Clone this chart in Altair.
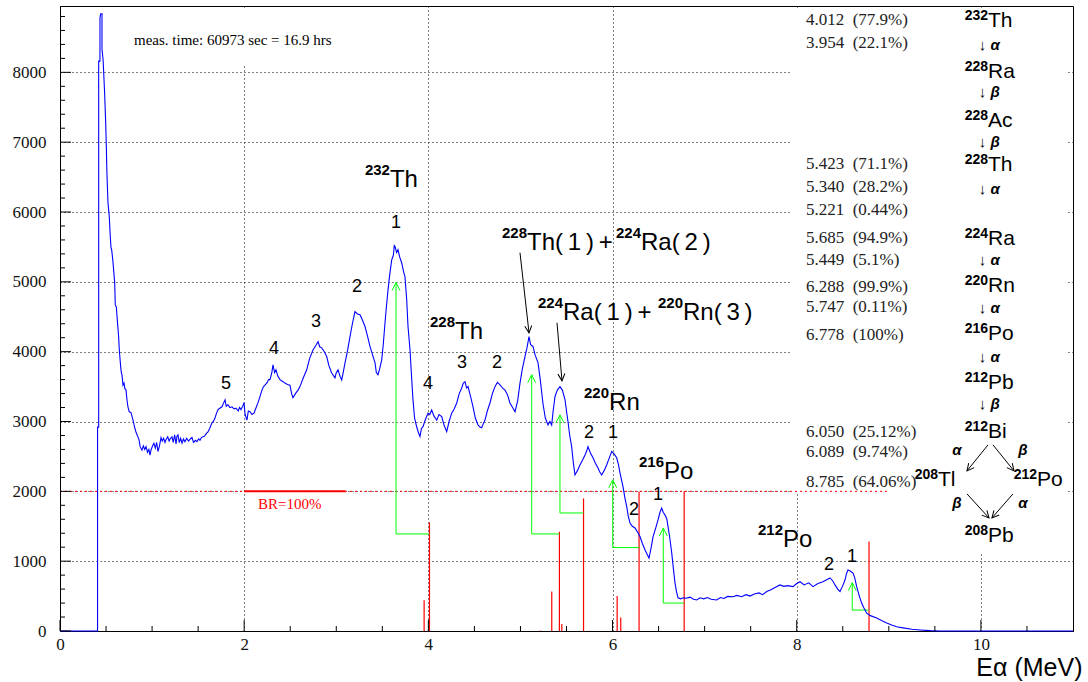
import math
import altair as alt
import pandas as pd

# ---------------- data ----------------
energy = [0.000, 0.408, 0.408, 0.420, 0.420, 0.434, 0.434, 0.442, 0.456, 0.456, 0.468, 0.485, 0.496, 0.503,
          0.510, 0.521, 0.535, 0.546, 0.554, 0.561, 0.575, 0.594, 0.600, 0.612, 0.622, 0.637, 0.644, 0.659,
          0.666, 0.673, 0.684, 0.695, 0.705, 0.717, 0.728, 0.738, 0.752, 0.770, 0.793, 0.810, 0.825, 0.840,
          0.858, 0.870, 0.890, 0.905, 0.920, 0.934, 0.950, 0.965, 0.977, 0.990, 1.005, 1.020, 1.035, 1.050,
          1.064, 1.080, 1.097, 1.110, 1.125, 1.140, 1.151, 1.170, 1.185, 1.200, 1.216, 1.230, 1.245, 1.260,
          1.270, 1.281, 1.295, 1.310, 1.325, 1.340, 1.357, 1.375, 1.395, 1.415, 1.433, 1.450, 1.470, 1.487,
          1.505, 1.520, 1.535, 1.553, 1.570, 1.590, 1.607, 1.625, 1.640, 1.650, 1.665, 1.683, 1.700, 1.716,
          1.735, 1.759, 1.775, 1.792, 1.805, 1.824, 1.845, 1.868, 1.890, 1.911, 1.935, 1.950, 1.965, 1.985,
          1.998, 2.010, 2.030, 2.045, 2.063, 2.085, 2.106, 2.130, 2.150, 2.170, 2.193, 2.210, 2.226, 2.250,
          2.265, 2.280, 2.300, 2.313, 2.330, 2.345, 2.365, 2.389, 2.410, 2.443, 2.470, 2.497, 2.515, 2.530,
          2.562, 2.585, 2.606, 2.640, 2.679, 2.710, 2.747, 2.775, 2.802, 2.820, 2.842, 2.870, 2.896, 2.920,
          2.950, 2.986, 3.000, 3.019, 3.040, 3.059, 3.075, 3.095, 3.120, 3.149, 3.175, 3.203, 3.230, 3.258,
          3.285, 3.312, 3.340, 3.366, 3.395, 3.421, 3.435, 3.453, 3.470, 3.493, 3.510, 3.529, 3.545, 3.562,
          3.580, 3.602, 3.620, 3.630, 3.638, 3.655, 3.670, 3.690, 3.711, 3.730, 3.746, 3.765, 3.779, 3.801,
          3.815, 3.833, 3.850, 3.873, 3.890, 3.909, 3.925, 3.942, 3.960, 3.975, 3.996, 4.015, 4.036, 4.060,
          4.091, 4.115, 4.145, 4.170, 4.199, 4.225, 4.253, 4.280, 4.308, 4.335, 4.362, 4.380, 4.398, 4.415,
          4.431, 4.460, 4.485, 4.510, 4.539, 4.560, 4.579, 4.600, 4.615, 4.640, 4.669, 4.695, 4.724, 4.750,
          4.778, 4.805, 4.832, 4.860, 4.886, 4.915, 4.941, 4.970, 4.995, 5.020, 5.049, 5.070, 5.093, 5.110,
          5.136, 5.160, 5.191, 5.215, 5.245, 5.270, 5.299, 5.320, 5.339, 5.355, 5.375, 5.400, 5.429, 5.455,
          5.484, 5.500, 5.516, 5.535, 5.556, 5.575, 5.592, 5.620, 5.647, 5.675, 5.701, 5.720, 5.733, 5.760,
          5.788, 5.815, 5.842, 5.860, 5.882, 5.910, 5.937, 5.965, 5.991, 6.015, 6.045, 6.065, 6.081, 6.114,
          6.135, 6.154, 6.170, 6.190, 6.215, 6.244, 6.270, 6.299, 6.325, 6.353, 6.375, 6.396, 6.420, 6.440,
          6.470, 6.494, 6.515, 6.534, 6.550, 6.570, 6.590, 6.602, 6.620, 6.643, 6.660, 6.678, 6.695, 6.711,
          6.740, 6.765, 6.800, 6.841, 6.880, 6.914, 6.950, 6.990, 7.030, 7.070, 7.131, 7.170, 7.210, 7.250,
          7.308, 7.350, 7.400, 7.450, 7.493, 7.540, 7.590, 7.630, 7.674, 7.720, 7.760, 7.818, 7.860, 7.900,
          7.960, 8.000, 8.036, 8.080, 8.130, 8.177, 8.230, 8.285, 8.320, 8.361, 8.390, 8.416, 8.445, 8.470,
          8.500, 8.524, 8.540, 8.557, 8.580, 8.611, 8.630, 8.651, 8.680, 8.705, 8.730, 8.760, 8.800, 8.868,
          8.920, 8.977, 9.030, 9.086, 9.154, 9.250, 9.339, 9.450, 9.556, 11.000]
counts = [0, 0, 2920, 2920, 8160, 8160, 8780, 8840, 8840, 8326, 8183, 7690, 7280, 6940,
          6535, 6133, 5937, 5646, 5488, 5460, 5290, 4985, 4670, 4640, 4455, 4210, 4025, 3780,
          3700, 3670, 3520, 3550, 3470, 3450, 3300, 3210, 3140, 3130, 3020, 2920, 2850, 2800,
          2740, 2640, 2590, 2650, 2600, 2640, 2560, 2600, 2520, 2600, 2650, 2690, 2620, 2700,
          2570, 2650, 2770, 2720, 2760, 2700, 2740, 2780, 2720, 2760, 2780, 2700, 2810, 2680,
          2790, 2810, 2700, 2760, 2690, 2750, 2710, 2760, 2720, 2750, 2770, 2700, 2730, 2710,
          2750, 2730, 2770, 2780, 2790, 2830, 2850, 2900, 2950, 2980, 3000, 3050, 3120, 3170,
          3190, 3210, 3260, 3310, 3220, 3240, 3200, 3210, 3180, 3190, 3150, 3200, 3170, 3220,
          3270, 3100, 3020, 3150, 3140, 3100, 3120, 3200, 3270, 3350, 3450, 3500, 3520, 3560,
          3600, 3600, 3700, 3810, 3700, 3740, 3650, 3600, 3580, 3550, 3530, 3520, 3400, 3340,
          3410, 3450, 3500, 3620, 3740, 3900, 4025, 4080, 4145, 4070, 4055, 4000, 3930, 3800,
          3695, 3625, 3700, 3740, 3650, 3595, 3700, 3840, 4000, 4215, 4400, 4575, 4540, 4530,
          4450, 4360, 4220, 4075, 3950, 3840, 3700, 3670, 3750, 3880, 4100, 4410, 4650, 4885,
          5100, 5315, 5380, 5520, 5505, 5420, 5460, 5350, 5270, 5150, 5075, 4740, 4360, 4025,
          3700, 3310, 3050, 2925, 2850, 2785, 2900, 2925, 3000, 3050, 3120, 3100, 3165, 3080,
          3020, 3100, 3070, 2950, 2855, 3000, 3120, 3180, 3265, 3400, 3480, 3550, 3570, 3480,
          3500, 3350, 3210, 3050, 2950, 2920, 2910, 2980, 3020, 3150, 3265, 3400, 3500, 3560,
          3525, 3480, 3450, 3380, 3265, 3200, 3140, 3300, 3550, 3750, 3930, 4050, 4215, 4100,
          4075, 3950, 3840, 3600, 3250, 3050, 2950, 3000, 2950, 3150, 3355, 3450, 3500, 3450,
          3310, 3150, 3000, 2800, 2640, 2400, 2235, 2300, 2380, 2450, 2520, 2580, 2640, 2550,
          2480, 2400, 2335, 2280, 2235, 2300, 2380, 2480, 2570, 2540, 2480, 2380, 2265, 2065,
          1900, 1780, 1650, 1545, 1500, 1475, 1420, 1350, 1250, 1160, 1100, 1045, 1200, 1350,
          1480, 1590, 1700, 1760, 1700, 1660, 1600, 1495, 1350, 1115, 900, 690, 560, 475,
          460, 475, 470, 485, 455, 445, 475, 460, 480, 455, 445, 480, 465, 495,
          490, 510, 490, 520, 500, 530, 545, 520, 565, 590, 620, 660, 640, 650,
          635, 680, 705, 660, 690, 635, 680, 705, 730, 760, 720, 660, 600, 565,
          650, 730, 820, 875, 860, 830, 760, 635, 500, 400, 330, 255, 220, 185,
          150, 115, 85, 60, 45, 25, 15, 5, 0, 0]

# alpha lines of the chain: energy (MeV) and branching ratio (%)
alpha_energy = [4.012, 3.954, 5.423, 5.340, 5.221, 5.685, 5.449, 6.288, 5.747, 6.778, 6.050, 6.089, 8.785]
alpha_br = ["77.9", "22.1", "71.1", "28.2", "0.44", "94.9", "5.1", "99.9", "0.11", "100", "25.12", "9.74", "64.06"]
br_text_y = [8756, 8426, 6692, 6363, 6033, 5632, 5316, 4930, 4643, 4242, 2852, 2565, 2135]
BR_FULL = 2000          # counts standing for BR = 100 %
BR_LINE_END = 8.98
BR_BAR = [2.0, 3.1]

# energy loss of each line: true energy -> observed peak
shift_true = [4.012, 5.423, 5.685, 6.288, 6.778, 8.785]
shift_obs = [3.649, 5.122, 5.429, 6.002, 6.551, 8.603]
shift_low = [1390, 1390, 1690, 1195, 400, 300]
shift_top = [4990, 3670, 3095, 2165, 1475, 692]

# peak numbers
peak_num = ["1", "2", "3", "4", "5", "4", "3", "2", "2", "1", "2", "1", "2", "1"]
peak_x = [3.649, 3.225, 2.780, 2.324, 1.803, 3.996, 4.365, 4.745, 5.744, 6.005, 6.233, 6.494, 8.351, 8.600]
peak_y = [5775, 4858, 4356, 3969, 3468, 3468, 3769, 3769, 2766, 2766, 1662, 1877, 874, 989]

# nuclide labels in the spectrum
nuc_mass = ["232", "228", "228", "224", "224", "220", "220", "216", "212"]
nuc_name = ["Th", "Th", "Th(\u20091\u2009)\u2009+", "Ra(\u20092\u2009)", "Ra(\u20091\u2009)\u2009+",
            "Rn(\u20093\u2009)", "Rn", "Po", "Po"]
nuc_x = [3.583, 4.289, 5.071, 6.309, 5.462, 6.765, 5.962, 6.559, 7.851]
nuc_y = [6363, 4184, 5460, 5460, 4457, 4457, 3167, 2178, 1204]

# pointer arrows in the spectrum
arrow_x = [4.995, 5.397]
arrow_y = [5417, 4414]
arrow_x2 = [5.093, 5.451]
arrow_y2 = [4270, 3583]

# decay chain
chain_mass = ["232", "228", "228", "228", "224", "220", "216", "212", "212", "208", "212", "208"]
chain_name = ["Th", "Ra", "Ac", "Th", "Ra", "Rn", "Po", "Pb", "Bi", "Tl", "Po", "Pb"]
chain_x = [10.077] * 9 + [9.534, 10.609, 10.077]
chain_y = [8655, 7925, 7222, 6592, 5531, 4858, 4170, 3468, 2766, 2078, 2078, 1275]
step_text = ["↓ α", "↓ β", "↓ β", "↓ α", "↓ α", "↓ α", "↓ α", "↓ β"]
step_y = [8397, 7724, 7007, 6334, 5316, 4629, 3926, 3253]
step_x = 10.09
branch_text = ["α", "β", "β", "α"]
branch_x = [9.74, 10.457, 9.74, 10.457]
branch_y = [2594, 2594, 1834, 1834]
branch_ax = [10.077, 10.131, 9.849, 10.348]
branch_ay = [2665, 2665, 1963, 1963]
branch_ax2 = [9.849, 10.359, 10.088, 10.120]
branch_ay2 = [2293, 2293, 1619, 1619]

# white boxes behind the texts
box_x = [0.72, 7.93, 9.30]
box_x2 = [3.52, 10.92, 10.92]
box_y = [8100, 1990, 1130]
box_y2 = [8915, 8915, 8915]

x_major = [0, 2, 4, 6, 8, 10]
x_minor = [0.5, 1.0, 1.5, 2.5, 3.0, 3.5, 4.5, 5.0, 5.5, 6.5, 7.0, 7.5, 8.5, 9.0, 9.5, 10.5]
y_major = [0, 1000, 2000, 3000, 4000, 5000, 6000, 7000, 8000]
y_minor = [v for v in range(200, 9000, 200) if v % 1000]

# ---------------- chart ----------------
W, H = 1013, 625
XMAX, YMAX = 11, 8950
SERIF = "Liberation Serif"
SANS = "Liberation Sans"
xs = alt.Scale(domain=[0, XMAX], nice=False, zero=False)
ys = alt.Scale(domain=[0, YMAX], nice=False, zero=False)

x_axis = alt.Axis(values=x_major, format="d", grid=True, gridDash=[1, 3], gridColor="black",
                  gridOpacity=1, gridWidth=1, ticks=False, domainColor="black", domainWidth=1,
                  labelFont=SERIF, labelFontSize=17, labelColor="#111", labelPadding=5,
                  labelFlush=False, title="Eα (MeV)", titleFont=SANS, titleFontSize=25,
                  titleFontWeight="normal", titleColor="black", titleAnchor="end",
                  titleAlign="right", titleX=1022, titleY=44, titleBaseline="alphabetic")
y_axis = alt.Axis(values=y_major, format="d", grid=True, gridDash=[1, 3], gridColor="black",
                  gridOpacity=1, gridWidth=1, ticks=False, domainColor="black", domainWidth=1,
                  labelFont=SERIF, labelFontSize=17, labelColor="#111", labelPadding=14,
                  labelFlush=False, title="")


def X(f="x"):
    return alt.X(f"{f}:Q", scale=xs, axis=x_axis)


def Y(f="y"):
    return alt.Y(f"{f}:Q", scale=ys, axis=y_axis)


def angle(x1, y1, x2, y2):
    dx = (x2 - x1) * W / XMAX
    dy = -(y2 - y1) * H / YMAX
    return math.degrees(math.atan2(dx, -dy)) % 360


HEAD = "M -1 2 L 0 0 L 1 2"

boxes = alt.Chart(pd.DataFrame({"x": box_x, "x2": box_x2, "y": box_y, "y2": box_y2})).mark_rect(
    fill="white").encode(x=X(), x2="x2:Q", y=Y(), y2="y2:Q")

red_dot = alt.Chart(pd.DataFrame({"x": [0], "x2": [BR_LINE_END], "y": [BR_FULL]})).mark_rule(
    color="#ff0000", strokeDash=[2, 3], strokeWidth=1).encode(x=X(), x2="x2:Q", y=Y())
red_bar = alt.Chart(pd.DataFrame({"x": [BR_BAR[0]], "x2": [BR_BAR[1]], "y": [BR_FULL]})).mark_rule(
    color="#ff0000", strokeWidth=2).encode(x=X(), x2="x2:Q", y=Y())

br_df = pd.DataFrame({"x": alpha_energy, "y": [0] * len(alpha_energy),
                      "y2": [float(b) / 100 * BR_FULL for b in alpha_br]})
red_lines = alt.Chart(br_df).mark_rule(color="#ff0000", strokeWidth=1.2).encode(x=X(), y=Y(), y2="y2:Q")

g_h = alt.Chart(pd.DataFrame({"x": shift_obs, "x2": shift_true, "y": shift_low})).mark_rule(
    color="#00ff00", strokeWidth=1).encode(x=X(), x2="x2:Q", y=Y())
g_v = alt.Chart(pd.DataFrame({"x": shift_obs, "y": shift_low, "y2": shift_top})).mark_rule(
    color="#00ff00", strokeWidth=1).encode(x=X(), y=Y(), y2="y2:Q")
g_head = alt.Chart(pd.DataFrame({"x": shift_obs, "y": shift_top})).mark_point(
    shape=HEAD, filled=False, color="#00ff00", strokeWidth=1, size=64, opacity=1).encode(x=X(), y=Y())

spec_df = pd.DataFrame({"x": energy, "y": counts, "i": list(range(len(energy)))})
spectrum = alt.Chart(spec_df).mark_line(color="#0000ff", strokeWidth=1.1).encode(
    x=X(), y=Y(), order=alt.Order("i:Q"))

arr_all_x = arrow_x + branch_ax
arr_all_y = arrow_y + branch_ay
arr_all_x2 = arrow_x2 + branch_ax2
arr_all_y2 = arrow_y2 + branch_ay2
arr_df = pd.DataFrame({"x": arr_all_x, "y": arr_all_y, "x2": arr_all_x2, "y2": arr_all_y2,
                       "ang": [angle(a, b, c, d) for a, b, c, d in
                               zip(arr_all_x, arr_all_y, arr_all_x2, arr_all_y2)]})
arr_lines = alt.Chart(arr_df).mark_rule(color="black", strokeWidth=1).encode(
    x=X(), y=Y(), x2="x2:Q", y2="y2:Q")
head_df = pd.DataFrame({"x": arr_all_x2, "y": arr_all_y2, "ang": arr_df["ang"]})
arr_heads = alt.Chart(head_df).mark_point(shape=HEAD, filled=False, color="black", strokeWidth=1,
                                          size=49, opacity=1).encode(
    x=X(), y=Y(), angle=alt.Angle("ang:Q", scale=None))


def texts(xv, yv, tv, **kw):
    df = pd.DataFrame({"x": xv, "y": yv, "t": tv})
    return alt.Chart(df).mark_text(**kw).encode(x=X(), y=Y(), text="t:N")


meas = texts([0.804], [8469], ["meas. time: 60973 sec = 16.9 hrs"], font=SERIF, fontSize=15,
             align="left", baseline="middle", color="black")
br100 = texts([2.15], [1820], ["BR=100%"], font=SERIF, fontSize=15, align="left",
              baseline="middle", color="#ff0000")
br_txt = texts([8.1] * len(alpha_energy), br_text_y,
               [f"{e:.3f}\u00a0\u00a0({b}%)" for e, b in zip(alpha_energy, alpha_br)],
               font=SERIF, fontSize=17, align="left", baseline="middle", color="#222")
peaks = texts(peak_x, peak_y, peak_num, font=SANS, fontSize=18, align="center",
              baseline="alphabetic", color="black")
nuc_m = texts(nuc_x, nuc_y, nuc_mass, font=SANS, fontSize=15, fontWeight="bold", align="right",
              baseline="alphabetic", dy=-12, color="black")
nuc_n = texts(nuc_x, nuc_y, nuc_name, font=SANS, fontSize=24, align="left",
              baseline="alphabetic", color="black")
ch_m = texts(chain_x, chain_y, chain_mass, font=SANS, fontSize=14, fontWeight="bold", align="right",
             baseline="alphabetic", dy=-7, color="black")
ch_n = texts(chain_x, chain_y, chain_name, font=SANS, fontSize=21, align="left",
             baseline="alphabetic", color="black")
steps = texts([step_x] * len(step_text), step_y, step_text, font=SANS, fontSize=15,
              fontWeight="bold", fontStyle="italic", align="center", baseline="middle", color="black")
branches = texts(branch_x, branch_y, branch_text, font=SANS, fontSize=15, fontWeight="bold",
                 fontStyle="italic", align="center", baseline="middle", color="black")

xt_major = alt.Chart(pd.DataFrame({"x": x_major})).mark_rule(color="black").encode(
    x=X(), y=alt.value(H), y2=alt.value(H - 11))
xt_minor = alt.Chart(pd.DataFrame({"x": x_minor})).mark_rule(color="black").encode(
    x=X(), y=alt.value(H), y2=alt.value(H - 5))
yt_major = alt.Chart(pd.DataFrame({"y": y_major})).mark_rule(color="black").encode(
    y=Y(), x=alt.value(0), x2=alt.value(11))
yt_minor = alt.Chart(pd.DataFrame({"y": y_minor})).mark_rule(color="black").encode(
    y=Y(), x=alt.value(0), x2=alt.value(5))

chart = alt.layer(
    boxes, red_dot, red_bar, red_lines, g_h, g_v, g_head, spectrum, arr_lines, arr_heads,
    meas, br100, br_txt, peaks, nuc_m, nuc_n, ch_m, ch_n, steps, branches,
    xt_major, xt_minor, yt_major, yt_minor,
).properties(
    width=W, height=H,
    padding={"left": 60, "top": 6, "right": 15, "bottom": 51},
    autosize=alt.AutoSizeParams(type="none"),
    background="white",
).configure_view(stroke="black", strokeWidth=1)

chart.save("out.html", embed_options={"renderer": "svg", "actions": False})
